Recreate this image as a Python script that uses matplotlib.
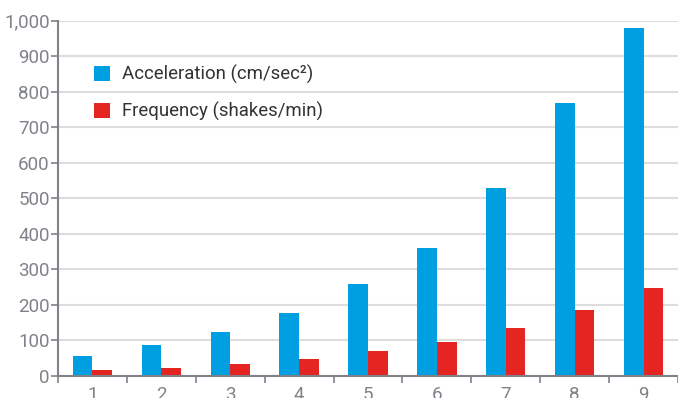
import matplotlib.pyplot as plt
from matplotlib.patches import Patch
from matplotlib.ticker import FuncFormatter, FixedLocator
import numpy as np

plt.rcParams['font.family'] = ['Roboto', 'DejaVu Sans']

categories = ["1", "2", "3", "4", "5", "6", "7", "8", "9"]
acceleration = [56, 87, 124, 177, 259, 360, 530, 769, 980]
frequency = [17, 23, 34, 48, 71, 96, 135, 186, 248]

blue = "#009FE1"
red = "#E52521"
grey = "#808289"

fig = plt.figure(figsize=(6.78, 3.98), dpi=100)
ax = fig.add_axes([58 / 678, 22 / 398, 620 / 678, 355.3 / 398])

x = np.arange(len(categories))
w = 0.286
ax.bar(x - w / 2, acceleration, width=w, color=blue, zorder=3)
ax.bar(x + w / 2, frequency, width=w, color=red, zorder=3)

ax.set_xlim(-0.5, len(categories) - 0.5)
ax.set_ylim(0, 1000)

# y axis
ax.set_yticks(np.arange(0, 1001, 100))
ax.yaxis.set_major_formatter(FuncFormatter(lambda v, p: f"{int(v):,}"))
ax.grid(axis="y", color="#dddddd", linewidth=1.5, zorder=0)
ax.set_axisbelow(True)

# x axis: ticks at group boundaries, labels at centres
ax.xaxis.set_major_locator(FixedLocator(np.arange(-0.5, len(categories), 1.0)))
ax.xaxis.set_major_formatter(FuncFormatter(lambda v, p: ""))
ax.xaxis.set_minor_locator(FixedLocator(x))
ax.set_xticklabels(categories, minor=True)
ax.tick_params(axis="x", which="minor", length=0, pad=7)
ax.tick_params(axis="both", which="major", length=5, width=1.2, color=grey)
ax.tick_params(axis="both", which="both", labelsize=13.5, labelcolor=grey)
ax.tick_params(axis="y", pad=1)

for s in ["top", "right"]:
    ax.spines[s].set_visible(False)
for s in ["left", "bottom"]:
    ax.spines[s].set_color(grey)
    ax.spines[s].set_linewidth(1.5)
    ax.spines[s].set_zorder(4)

handles = [Patch(facecolor=blue, label="Acceleration (cm/sec²)"),
           Patch(facecolor=red, label="Frequency (shakes/min)")]
leg = fig.legend(handles=handles, loc="upper left",
                 bbox_to_anchor=(94 / 678, 1 - 65 / 398),
                 frameon=False, fontsize=13.4, handlelength=0.88, handleheight=0.88,
                 handletextpad=0.6, labelspacing=0.95, borderpad=0, borderaxespad=0)
for t in leg.get_texts():
    t.set_color("#333333")

fig.savefig("out.png", dpi=100)
